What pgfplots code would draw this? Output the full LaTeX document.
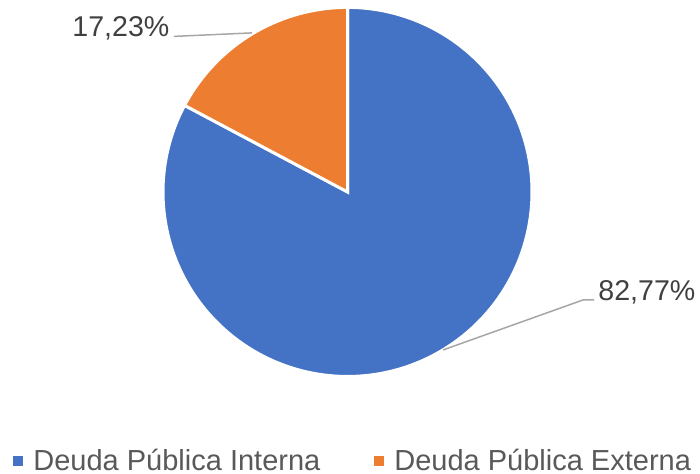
\documentclass[border=0pt]{standalone}
\usepackage{pgfplots}
\usepackage{pgfplotstable}
\pgfplotsset{compat=1.18}
\usepackage{fontspec}
\setmainfont{Liberation Sans}
\definecolor{cBlue}{HTML}{4472C4}
\definecolor{cOrange}{HTML}{ED7D31}
\definecolor{cText}{HTML}{404040}
\definecolor{cLeg}{HTML}{595959}
\definecolor{cLine}{HTML}{A6A6A6}

\pgfplotstableread{
label value
Interna 82.77
Externa 17.23
}\piedata
\pgfplotstablegetelem{0}{value}\of\piedata \let\vA\pgfplotsretval
\pgfplotstablegetelem{1}{value}\of\piedata \let\vB\pgfplotsretval
\pgfmathsetmacro\angB{90+\vB*3.6}

\begin{document}
\begin{tikzpicture}
\useasboundingbox (0,0) rectangle (350pt,237pt);
\begin{axis}[
  scale only axis, width=350pt, height=237pt,
  xmin=0, xmax=700, ymin=0, ymax=474,
  hide axis, clip=false,
  legend columns=2,
  legend style={at={(axis cs:13,0)}, anchor=south west, draw=none, fill=none,
    font=\fontsize{14.5}{16}\selectfont\color{cLeg}, inner sep=0pt,
    nodes={inner sep=0pt},
    /tikz/every odd column/.append style={column sep=5pt},
    /tikz/every even column/.append style={column sep=27pt}},
  legend cell align=left,
  legend image code/.code={\fill[draw=none] (0pt,-2.5pt) rectangle (5pt,2.5pt);},
]
\addplot[fill=cBlue, draw=white, line width=1.5pt, domain=\angB:450, samples=240]
  ({347.5+184.5*cos(x)},{282+184.5*sin(x)}) -- (axis cs:347.5,282) -- cycle;
\addlegendentry{Deuda Pública Interna}
\addplot[fill=cOrange, draw=white, line width=1.5pt, domain=90:\angB, samples=80]
  ({347.5+184.5*cos(x)},{282+184.5*sin(x)}) -- (axis cs:347.5,282) -- cycle;
\addlegendentry{Deuda Pública Externa}
\draw[cLine, line width=0.75pt] (axis cs:174,437.5) -- (axis cs:252,441);
\draw[cLine, line width=0.75pt] (axis cs:443,124) -- (axis cs:583,174) -- (axis cs:594,174);
\node[anchor=base west, inner sep=0pt, text=cText, font=\fontsize{14.3}{16}\selectfont] at (axis cs:72,437) {17,23\%};
\node[anchor=base west, inner sep=0pt, text=cText, font=\fontsize{14.3}{16}\selectfont] at (axis cs:598,173) {82,77\%};
\end{axis}
\end{tikzpicture}
\end{document}
